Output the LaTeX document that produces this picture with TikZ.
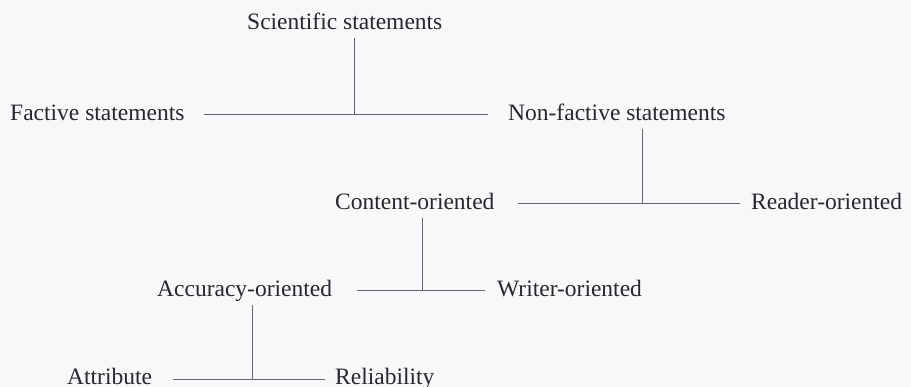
\documentclass[tikz,border=0pt]{standalone}
\usepackage{fontspec}
\setmainfont{Liberation Serif}
\definecolor{paper}{RGB}{247,248,250}
\definecolor{ink}{RGB}{40,40,44}
\definecolor{rule}{RGB}{100,100,106}
\begin{document}
\begin{tikzpicture}[x=1pt,y=-1pt,
  term/.style={anchor=base west, inner xsep=0pt, inner ysep=5pt,
    text height=0.7em, text depth=0.25em, text=ink,
    font=\fontsize{23.5}{26}\selectfont},
  branch/.style={draw=rule, line width=0.9pt}]
  % page
  \fill[paper] (0,0) rectangle (911,387);
  \useasboundingbox (0,0) rectangle (911,387);

  % terms, placed by baseline
  \node[term] (sci)  at (247,30)  {Scientific statements};
  \node[term] (fact) at (10,121)  {Factive statements};
  \node[term] (nonf) at (508,121) {Non-factive statements};
  \node[term] (cont) at (335,210) {Content-oriented};
  \node[term] (read) at (751,210) {Reader-oriented};
  \node[term] (accu) at (157,297) {Accuracy-oriented};
  \node[term] (writ) at (497,297) {Writer-oriented};
  \node[term] (attr) at (67,385)  {Attribute};
  \node[term] (reli) at (335,385) {Reliability};

  % junctions and free ends of the horizontal rules
  \coordinate (j1) at (354,114);
  \coordinate (j2) at (642,203);
  \coordinate (j3) at (422,290);
  \coordinate (j4) at (252,379);
  \coordinate (h1a) at (204,114); \coordinate (h1b) at (488,114);
  \coordinate (h2a) at (518,203); \coordinate (h2b) at (740,203);
  \coordinate (h3a) at (357,290); \coordinate (h3b) at (485,290);
  \coordinate (h4a) at (173,379); \coordinate (h4b) at (325,379);

  % branches
  \draw[branch] (h1a) -- (h1b);
  \draw[branch] (j1 |- sci.south) -- (j1);
  \draw[branch] (h2a) -- (h2b);
  \draw[branch] (j2 |- nonf.south) -- (j2);
  \draw[branch] (h3a) -- (h3b);
  \draw[branch] (j3 |- cont.south) -- (j3);
  \draw[branch] (h4a) -- (h4b);
  \draw[branch] (j4 |- accu.south) -- (j4);
\end{tikzpicture}
\end{document}
